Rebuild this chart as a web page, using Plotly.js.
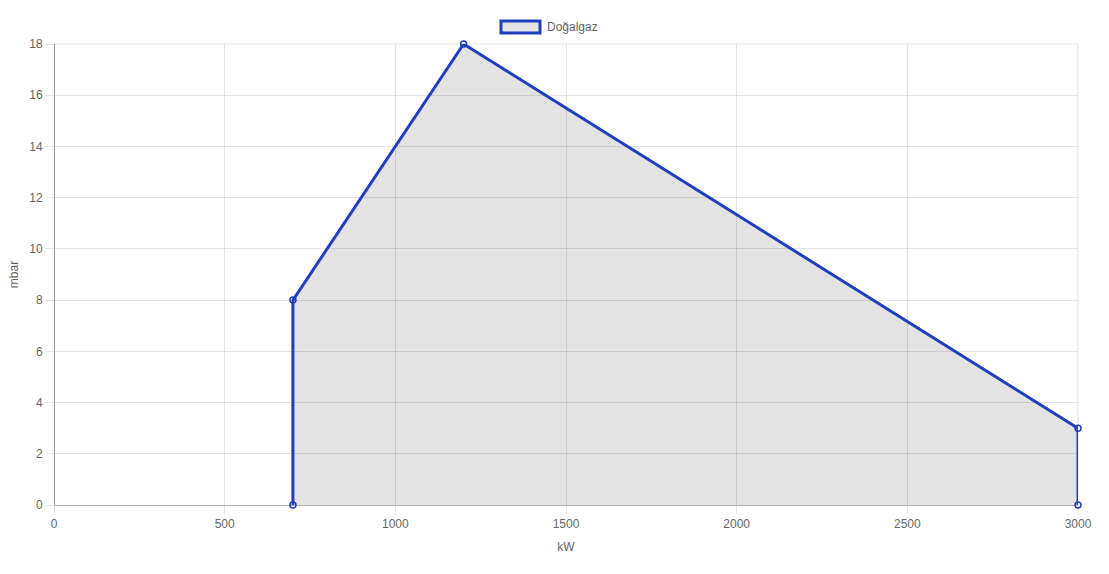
<!DOCTYPE html>
<html>
<head>
<meta charset="utf-8">
<script src="https://cdn.plot.ly/plotly-3.0.1.min.js"></script>
<style>html,body{margin:0;padding:0;background:#fff;}#chart{width:1109px;height:574px;}</style>
</head>
<body>
<div id="chart"></div>
<script>
const seriesName = "Doğalgaz";
const powerKW = [700, 700, 1200, 3000, 3000];
const pressureMbar = [0, 8, 18, 3, 0];
const xTitle = "kW";
const yTitle = "mbar";

const lineColor = "#1f3fbf";
const fnt = {family: "Liberation Sans, Arial, Helvetica, sans-serif", size: 12, color: "#666"};

const trace = {
  x: powerKW, y: pressureMbar, type: "scatter", mode: "lines+markers",
  name: seriesName, fill: "toself", fillcolor: "rgba(0,0,0,0.11)",
  line: {color: lineColor, width: 3},
  marker: {symbol: "circle-open", size: 6, color: lineColor, line: {width: 1.5, color: lineColor}},
  cliponaxis: false, showlegend: false
};

const layout = {
  width: 1109, height: 574,
  margin: {l: 54, r: 31, t: 44, b: 69},
  paper_bgcolor: "#fff", plot_bgcolor: "#fff",
  font: fnt,
  showlegend: false,
  xaxis: {
    range: [0, 3000], dtick: 500, tick0: 0,
    showgrid: true, gridcolor: "rgba(0,0,0,0.1)", gridwidth: 1,
    zeroline: true, zerolinecolor: "rgba(0,0,0,0.3)", zerolinewidth: 1,
    ticks: "outside", ticklen: 8, tickcolor: "rgba(0,0,0,0.1)",
    tickfont: fnt, showline: false,
    title: {text: xTitle, font: fnt, standoff: 12}
  },
  yaxis: {
    range: [0, 18], dtick: 2, tick0: 0,
    showgrid: true, gridcolor: "rgba(0,0,0,0.1)", gridwidth: 1,
    zeroline: true, zerolinecolor: "rgba(0,0,0,0.3)", zerolinewidth: 1,
    ticks: "outside", ticklen: 8, tickcolor: "rgba(0,0,0,0.1)",
    tickfont: fnt, showline: false,
    title: {text: yTitle, font: fnt, standoff: 8}
  },
  shapes: [
    {type: "line", xref: "x", yref: "paper", x0: 0, x1: 0, y0: 0, y1: 1, line: {color: "rgba(0,0,0,0.3)", width: 1}, layer: "below"},
    {type: "line", xref: "paper", yref: "paper", x0: 1, x1: 1, y0: 0, y1: 1, line: {color: "rgba(0,0,0,0.1)", width: 1}, layer: "below"},
    {type: "line", xref: "paper", yref: "paper", x0: 0, x1: 1, y0: 1, y1: 1, line: {color: "rgba(0,0,0,0.1)", width: 1}, layer: "below"},
    {type: "rect", xref: "paper", yref: "paper",
     x0: (501 - 54) / 1024, x1: (540 - 54) / 1024, y0: (505 - 33) / 461, y1: (505 - 21) / 461,
     fillcolor: "rgba(0,0,0,0.11)", line: {color: lineColor, width: 3}}
  ],
  annotations: [
    {xref: "paper", yref: "paper", x: (545 - 54) / 1024, y: (505 - 27) / 461,
     xanchor: "left", yanchor: "middle", text: seriesName, showarrow: false, font: fnt}
  ]
};

Plotly.newPlot("chart", [trace], layout, {displayModeBar: false, staticPlot: true});
</script>
</body>
</html>
